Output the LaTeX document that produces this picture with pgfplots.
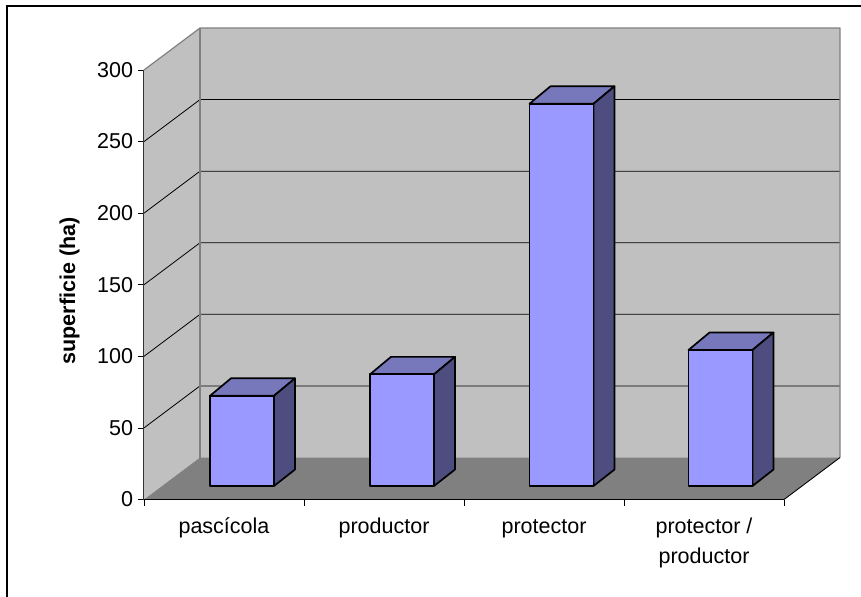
\documentclass[border=0pt]{standalone}
\usepackage{pgfplots}
\pgfplotsset{compat=1.18}
\usepackage{fontspec}
\setmainfont{Liberation Sans}

\definecolor{wallc}{HTML}{C0C0C0}
\definecolor{floorc}{HTML}{808080}
\definecolor{barfront}{HTML}{9999FF}
\definecolor{bartop}{HTML}{7777BB}
\definecolor{barside}{HTML}{4D4D80}

% one box: left edge (category units), value
\newcommand{\solidbar}[2]{%
  \pgfmathsetmacro\xa{#1}%
  \pgfmathsetmacro\xb{#1+0.4}%
  \pgfmathsetmacro\xc{#1+0.4+0.13125}%
  \pgfmathsetmacro\xd{#1+0.13125}%
  \pgfmathsetmacro\ya{9.43}%
  \pgfmathsetmacro\yb{9.43+#2}%
  \pgfmathsetmacro\yc{9.43+#2+12.2}%
  \pgfmathsetmacro\yd{9.43+11.5}%
  \addplot[draw=black,line width=1.7bp,line join=round,fill=bartop] coordinates {(\xa,\yb)(\xd,\yc)(\xc,\yc)(\xb,\yb)} --cycle;
  \addplot[draw=black,line width=1.7bp,line join=round,fill=barside] coordinates {(\xb,\ya)(\xc,\yd)(\xc,\yc)(\xb,\yb)} --cycle;
  \addplot[draw=black,line width=1.7bp,line join=round,fill=barfront] coordinates {(\xa,\ya)(\xb,\ya)(\xb,\yb)(\xa,\yb)} --cycle;
}
% gridline along side wall and back wall
\newcommand{\wallgrid}[1]{%
  \pgfmathsetmacro\yy{#1+29.33}%
  \addplot[black,line width=0.8bp] coordinates {(0,#1)(0.35,\yy)(4.35,\yy)};
}

\begin{document}
\begin{tikzpicture}
\begin{axis}[
  scale only axis,
  width=640bp, height=429.5bp,
  xmin=0, xmax=4,
  ymin=0, ymax=300,
  clip=false,
  axis on top,
  axis lines*=left,
  x axis line style={-,black,line width=1bp},
  y axis line style={-,black!80,line width=1bp},
  tick align=outside,
  tick style={black,line width=0.8bp},
  xtick={0.5,1.5,2.5,3.5},
  xticklabels={\strut pascícola,\strut productor,\strut protector,{\strut protector /\\\strut productor}},
  minor xtick={0,1,2,3,4},
  major tick length=5.5bp,
  minor tick length=6bp,
  x tick style={draw=none},
  minor x tick style={draw=black,line width=0.8bp},
  ytick={0,50,100,150,200,250,300},
  /pgf/number format/assume math mode=true,
  ticklabel style={font=\fontsize{21.6}{30}\selectfont},
  xticklabel style={align=center,yshift=-4bp},
  yticklabel style={xshift=-2bp},
  ylabel={superficie (ha)},
  every axis y label/.style={at={(axis cs:-0.431,145.6)},rotate=90,anchor=base,font=\fontsize{21.6}{24}\selectfont\bfseries},
]
% side wall, back wall, floor
\addplot[fill=wallc,draw=none] coordinates {(0,0)(0.35,29.33)(0.35,329.33)(0,300)} --cycle;
\addplot[fill=wallc,draw=none] coordinates {(0.35,29.33)(4.35,29.33)(4.35,329.33)(0.35,329.33)} --cycle;
\addplot[fill=floorc,draw=none] coordinates {(0,0)(4,0)(4.35,29.33)(0.35,29.33)} --cycle;
\wallgrid{50}
\wallgrid{100}
\wallgrid{150}
\wallgrid{200}
\wallgrid{250}
\addplot[floorc,line width=1.2bp,line join=round] coordinates {(0,300)(0.35,329.33)(4.35,329.33)(4.35,29.33)};
\addplot[floorc,line width=1.2bp] coordinates {(0.35,329.33)(0.35,29.33)};
\addplot[black,line width=0.9bp] coordinates {(4,0)(4.35,29.33)};
% values
\solidbar{0.4125}{63}
\solidbar{1.4125}{78}
\solidbar{2.4094}{267}
\solidbar{3.4031}{95}
\end{axis}
\pgfresetboundingbox
\path[use as bounding box] (-144bp,-97.5bp) rectangle (717bp,499.5bp);
\draw[black,line width=2bp] (-136.5bp,-97.5bp) -- (-136.5bp,493.5bp) -- (717bp,493.5bp);
\end{tikzpicture}
\end{document}
